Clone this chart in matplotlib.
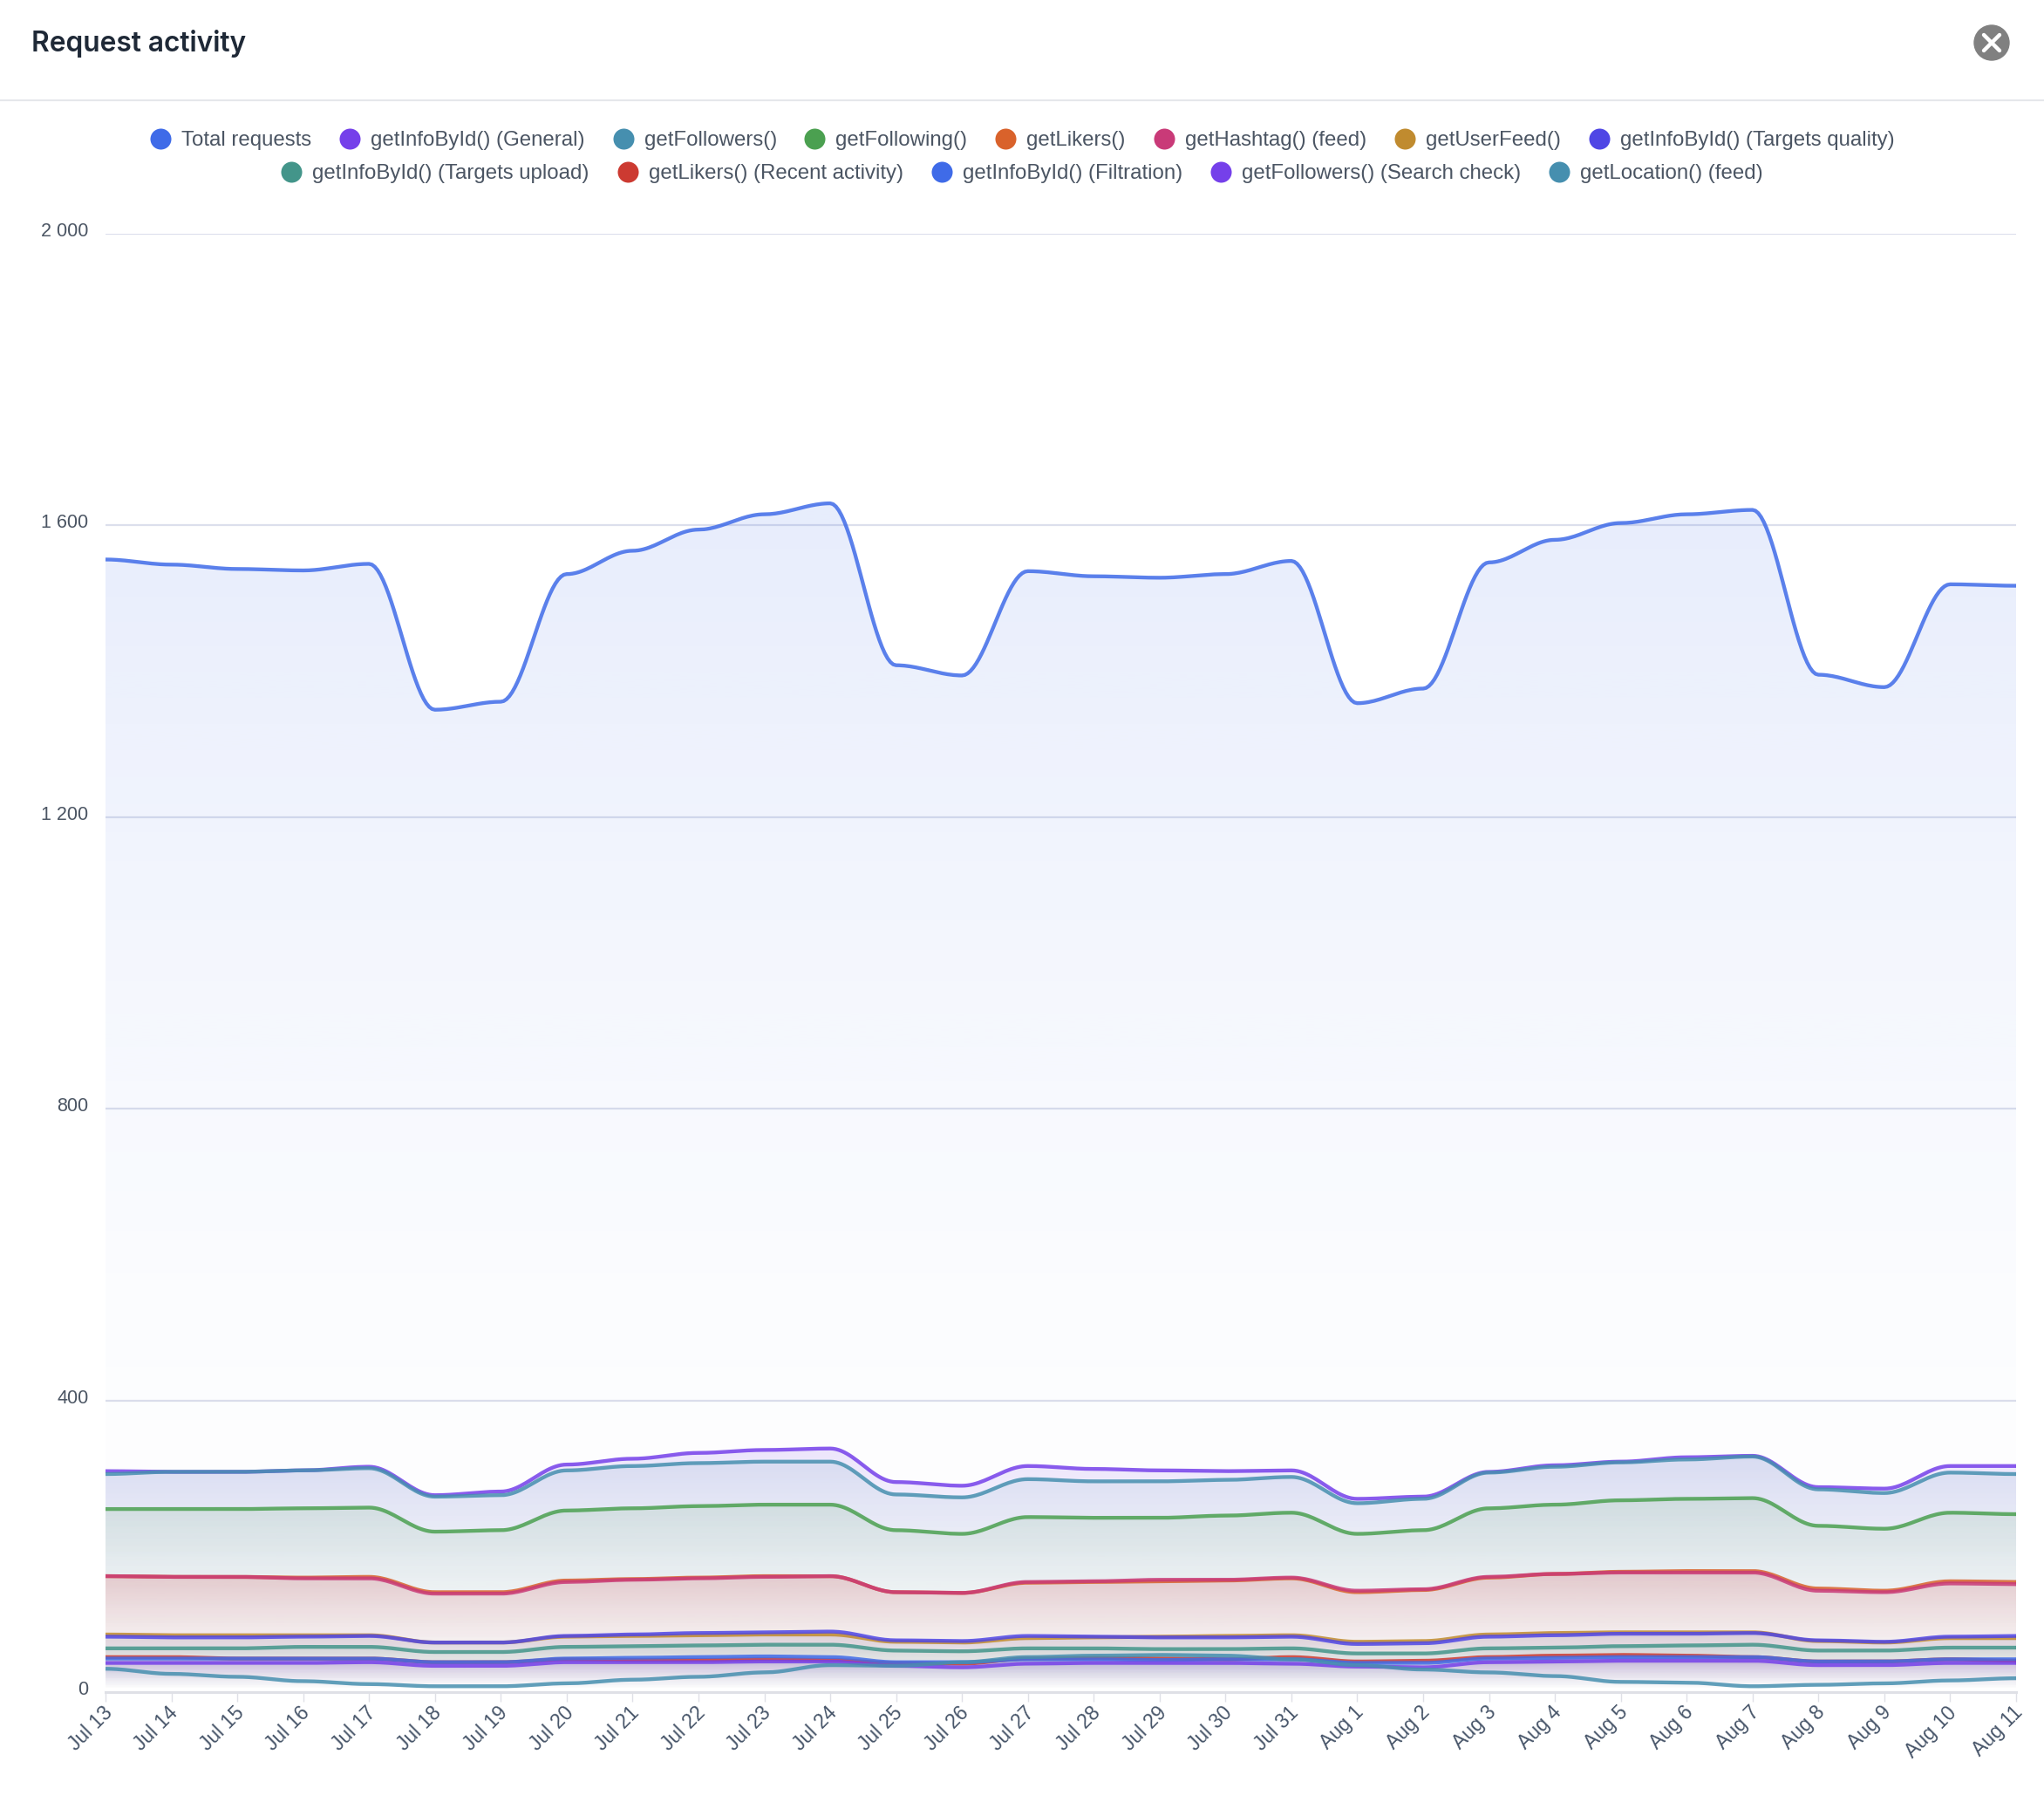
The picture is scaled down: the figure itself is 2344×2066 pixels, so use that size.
import numpy as np
import matplotlib
matplotlib.use("Agg")
import matplotlib.pyplot as plt
from matplotlib.lines import Line2D
from matplotlib.patches import Ellipse
from matplotlib.path import Path
from matplotlib.colors import to_rgb
from matplotlib.transforms import ScaledTranslation

dates = ["Jul 13","Jul 14","Jul 15","Jul 16","Jul 17","Jul 18","Jul 19","Jul 20","Jul 21","Jul 22",
         "Jul 23","Jul 24","Jul 25","Jul 26","Jul 27","Jul 28","Jul 29","Jul 30","Jul 31","Aug 1",
         "Aug 2","Aug 3","Aug 4","Aug 5","Aug 6","Aug 7","Aug 8","Aug 9","Aug 10","Aug 11"]
y_ticks = [0, 400, 800, 1200, 1600, 2000]
y_labels = ["0", "400", "800", "1 200", "1 600", "2 000"]

total = [1553,1546,1540,1538,1547,1347,1358,1533,1565,1594,1615,1630,1408,1394,1537,1530,1528,1533,1551,1356,1376,1549,1580,1603,1615,1621,1395,1378,1519,1517]
general = [303,302,302,304,309,270,275,312,320,328,332,334,288,283,310,306,304,303,304,265,268,302,311,316,322,324,281,279,310,310]
followers = [299,302,302,304,307,268,270,304,310,314,316,316,271,267,292,289,289,291,295,259,265,301,309,315,319,323,278,273,301,299]
following = [251,251,251,252,253,220,222,249,252,255,257,257,222,217,240,239,239,242,246,217,222,252,257,263,265,266,228,224,246,244]
likers = [159,158,158,157,158,137,137,153,155,157,159,159,137,136,150,151,152,153,156,137,140,157,162,165,166,166,142,139,152,151]
hashtag = [159,158,158,156,156,135,135,151,154,156,158,159,137,136,151,152,154,154,157,139,141,158,162,164,164,164,139,137,149,148]
user_feed = [79,78,78,78,78,68,68,76,77,78,79,79,69,68,74,75,76,77,78,69,70,79,81,82,82,82,70,68,74,74]
targets_quality = [76,75,75,76,77,68,68,77,79,81,82,83,71,70,77,76,75,75,76,66,67,76,78,80,80,81,71,69,76,77]
targets_upload = [60,60,60,62,62,55,55,62,63,64,65,65,57,56,60,60,59,59,60,53,53,60,61,63,64,65,57,57,61,61]
likers_recent = [48,48,46,46,46,41,41,45,44,44,45,44,40,39,46,47,46,45,48,42,43,48,50,51,50,48,42,42,45,43]
filtration = [46,46,46,46,46,41,41,46,47,48,49,48,41,41,45,45,44,45,45,40,40,46,47,48,48,48,42,42,45,45]
search_check = [40,40,40,40,41,36,36,41,41,41,42,42,36,34,39,40,40,40,39,35,34,41,42,43,43,43,37,37,40,40]
location = [32,25,21,15,11,8,8,12,17,21,27,37,36,41,48,50,51,50,45,37,31,27,22,14,13,8,10,12,16,19]

names = ["Total requests","getInfoById() (General)","getFollowers()","getFollowing()","getLikers()",
         "getHashtag() (feed)","getUserFeed()","getInfoById() (Targets quality)","getInfoById() (Targets upload)",
         "getLikers() (Recent activity)","getInfoById() (Filtration)","getFollowers() (Search check)","getLocation() (feed)"]
series = [total, general, followers, following, likers, hashtag, user_feed, targets_quality,
          targets_upload, likers_recent, filtration, search_check, location]
colors = ["#3F6BE8","#7540EA","#468FAF","#4BA050","#D9622B","#C93A78","#C08B2F","#4F46E5",
          "#43958A","#CC3A31","#3F6BE8","#7540EA","#468FAF"]

W, H = 2344, 2066
plt.rcParams["font.family"] = ["Liberation Sans", "DejaVu Sans"]
fig = plt.figure(figsize=(W / 100, H / 100), dpi=100, facecolor="white")
L, R, T, B = 121, 2312, 267.7, 1940
ax = fig.add_axes([L / W, 1 - B / H, (R - L) / W, (B - T) / H])
ax.set_facecolor("none")


def smooth(xs, ys, control=0.35, n=24):
    """Bezier with flat tangents at every data point."""
    px, py = [xs[0]], [ys[0]]
    t = np.linspace(0, 1, n + 1)[1:]
    for x0, x1, y0, y1 in zip(xs[:-1], xs[1:], ys[:-1], ys[1:]):
        dx = (x1 - x0) * control
        a, b, c, d = (1 - t) ** 3, 3 * (1 - t) ** 2 * t, 3 * (1 - t) * t ** 2, t ** 3
        px.extend(a * x0 + b * (x0 + dx) + c * (x1 - dx) + d * x1)
        py.extend((a + b) * y0 + (c + d) * y1)
    return np.array(px), np.array(py)


x = np.arange(len(dates))
ax.set_xlim(x[0], x[-1])
ax.set_ylim(0, y_ticks[-1])

for v in y_ticks[1:]:
    ax.axhline(v, color="#DCDFEC", lw=1.6, zorder=0)

TOP_ALPHA, FADE = 0.125, 1.6
for z, (name, vals, col) in enumerate(zip(names, series, colors)):
    sx, sy = smooth(x, vals)
    top = sy.max()
    rows = 400
    frac = np.linspace(0, 1, rows)  # 0 at top of the series, 1 at the baseline
    alpha = TOP_ALPHA * (1 - frac) ** FADE
    rgba = np.zeros((rows, 1, 4))
    rgba[..., :3] = to_rgb(col)
    rgba[..., 3] = alpha[:, None]
    im = ax.imshow(rgba, extent=(x[0], x[-1], 0, top), origin="upper", aspect="auto",
                   interpolation="bilinear", zorder=1 + z * 0.01)
    verts = np.vstack([np.column_stack([sx, sy]), [[sx[-1], 0], [sx[0], 0], [sx[0], sy[0]]]])
    im.set_clip_path(Path(verts, closed=True), transform=ax.transData)

for z, (name, vals, col) in enumerate(zip(names, series, colors)):
    sx, sy = smooth(x, vals)
    ax.plot(sx, sy, color=col, lw=3.1, alpha=0.85, zorder=3 + z * 0.01, label=name,
            solid_capstyle="butt", clip_on=False)

ax.set_xlim(x[0], x[-1])
ax.set_ylim(0, y_ticks[-1])
for s in ["top", "left", "right"]:
    ax.spines[s].set_visible(False)
ax.spines["bottom"].set_color("#DFE0E6")
ax.spines["bottom"].set_linewidth(2.2)

ax.set_yticks(y_ticks)
ax.set_yticklabels(y_labels, fontsize=15.5, color="#4B5563")
ax.tick_params(axis="y", length=0, pad=14)
y_shift = ScaledTranslation(0, 2.5 / 100, fig.dpi_scale_trans)
for lab in ax.get_yticklabels():
    lab.set_verticalalignment("center")
    lab.set_transform(lab.get_transform() + y_shift)
ax.set_xticks(x)
ax.set_xticklabels(dates, fontsize=16.5, color="#475569", rotation=45, ha="right", va="top",
                   rotation_mode="anchor")
ax.tick_params(axis="x", length=8, width=1, color="#DFE0E6", pad=2)
x_shift = ScaledTranslation(-4 / 100, 2 / 100, fig.dpi_scale_trans)
for lab in ax.get_xticklabels():
    lab.set_transform(lab.get_transform() + x_shift)


def fx(px):
    return px / W


def fy(py):
    return 1 - py / H


# header
fig.text(fx(36), fy(49.5), "Request activity", fontsize=22.8, fontweight="semibold",
         family=["Inter", "Liberation Sans"], color="#1F2937", va="center", ha="left")
fig.add_artist(Line2D([0, 1], [fy(115)] * 2, color="#E5E7EB", lw=1.5, transform=fig.transFigure))
fig.add_artist(Ellipse((fx(2284), fy(49)), 40 / W, 40 / H, color="#808080", transform=fig.transFigure))
for sgn in (-1, 1):
    fig.add_artist(Line2D([fx(2275), fx(2293)], [fy(49 - sgn * 9), fy(49 + sgn * 9)], color="white",
                          lw=3.2, solid_capstyle="round", transform=fig.transFigure))

# legend
row_y = [158.5, 196.5]
legend_marker_x = [184, 400.6, 714.5, 934, 1153, 1335, 1611, 1834, 334, 720, 1080, 1400, 1788]
legend_rows = [0, 0, 0, 0, 0, 0, 0, 0, 1, 1, 1, 1, 1]
for name, col, mx, r in zip(names, colors, legend_marker_x, legend_rows):
    fig.add_artist(Line2D([fx(mx)], [fy(row_y[r])], marker="o", ms=17.3, mfc=col, mec="none",
                          ls="none", transform=fig.transFigure))
    fig.text(fx(mx + 24), fy(row_y[r] + 2), name, fontsize=17.3, color="#4B5563", va="center", ha="left")

fig.savefig("out.png", dpi=100, facecolor="white")
